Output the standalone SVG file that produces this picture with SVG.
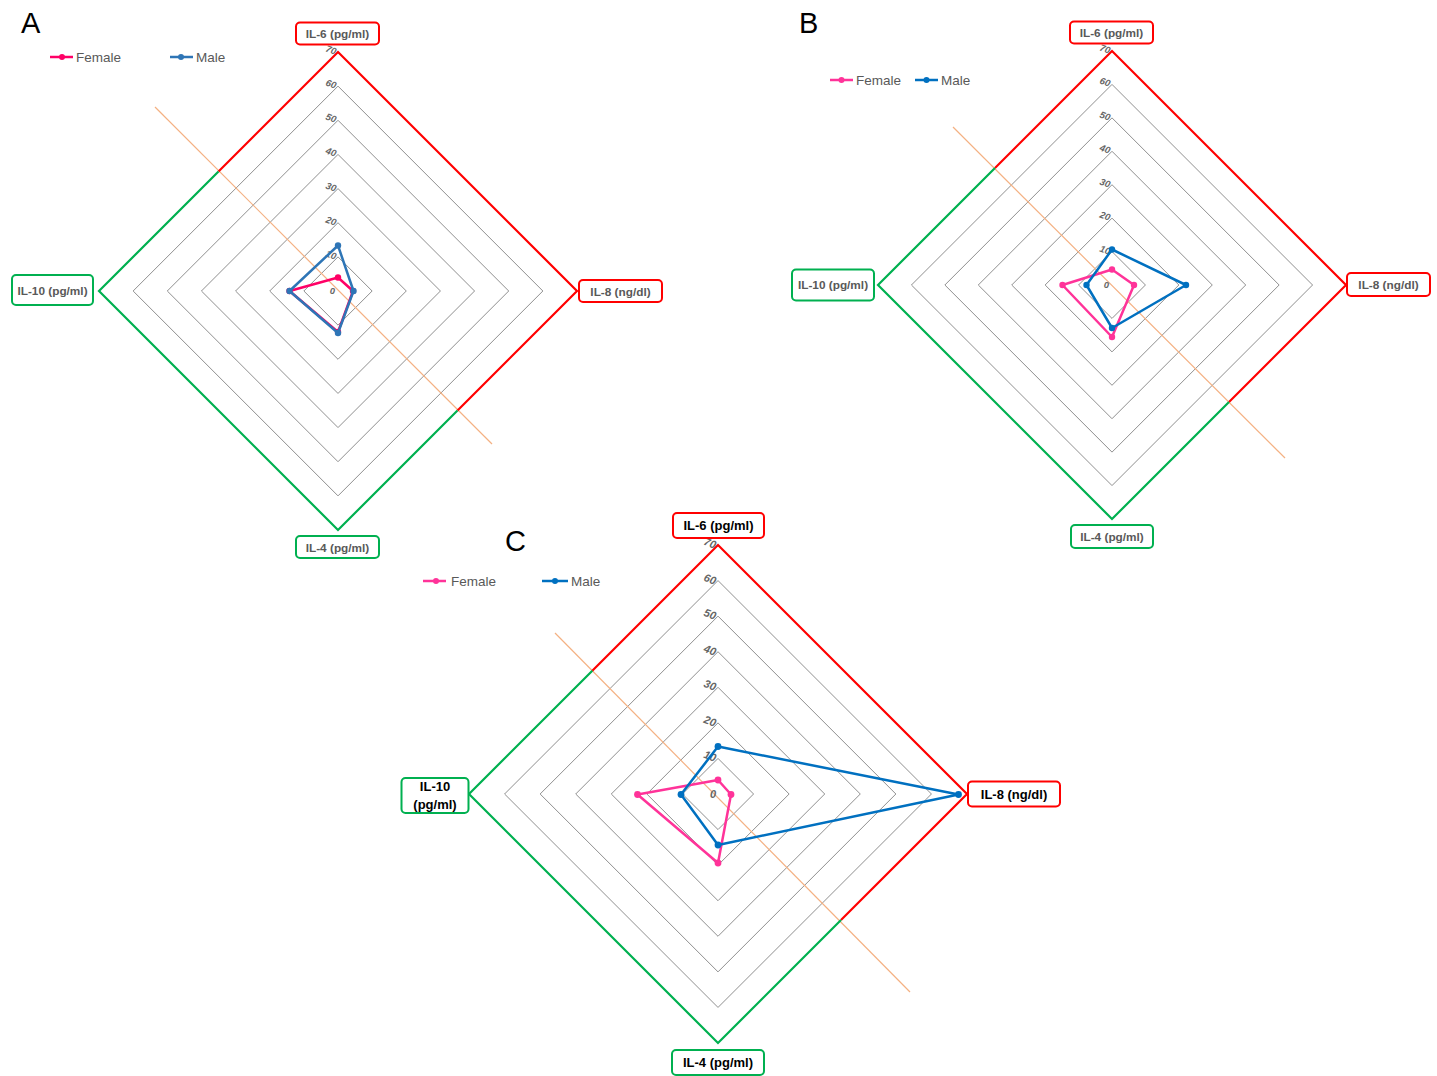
<svg xmlns="http://www.w3.org/2000/svg" width="1437" height="1076" viewBox="0 0 1437 1076">
<style>
.ring{fill:none;stroke:#8f8f8f;stroke-width:1}
.red{fill:none;stroke:#ff0000;stroke-width:2.2}
.grn{fill:none;stroke:#00b050;stroke-width:2.2}
.orl{stroke:#f4b183;stroke-width:1.2}
.tick{font-family:"Liberation Sans",Arial,sans-serif;font-style:italic;font-weight:bold;fill:#666;text-anchor:end}
.ta{font-size:9.5px}
.tb{font-size:9.5px}
.tc{font-size:11px}
.boxr{fill:#fff;stroke:#ff0000;stroke-width:2}
.boxg{fill:#fff;stroke:#00b050;stroke-width:2}
.lab{font-family:"Liberation Sans",Arial,sans-serif;font-weight:bold;fill:#595959;font-size:11.8px;text-anchor:middle}
.labc{font-family:"Liberation Sans",Arial,sans-serif;font-weight:bold;fill:#000;font-size:13px;text-anchor:middle}
.leg{font-family:"Liberation Sans",Arial,sans-serif;fill:#595959;font-size:13.5px}
.letter{font-family:"Liberation Sans",Arial,sans-serif;fill:#000;font-size:29px}
.fA{fill:none;stroke:#ff0066;stroke-width:2.5;stroke-linejoin:round}
.mA{fill:none;stroke:#2e75b6;stroke-width:2.5;stroke-linejoin:round}
.fB{fill:none;stroke:#ff3399;stroke-width:2.5;stroke-linejoin:round}
.mB{fill:none;stroke:#0070c0;stroke-width:2.5;stroke-linejoin:round}
</style>
<rect width="1437" height="1076" fill="#fff"/>

<!-- Chart A -->
<g id="chartA">
  <text class="letter" x="21" y="33">A</text>
  <g id="legendA">
    <line x1="50" y1="57" x2="73" y2="57" stroke="#ff0066" stroke-width="2.5"/><circle cx="62" cy="57" r="3" fill="#ff0066"/>
    <text class="leg" x="76" y="62">Female</text>
    <line x1="170" y1="57" x2="193" y2="57" stroke="#2e75b6" stroke-width="2.5"/><circle cx="181" cy="57" r="3" fill="#2e75b6"/>
    <text class="leg" x="196" y="62">Male</text>
  </g>
  <g id="gridA">
    <polygon class="ring" points="338,256.86 372.14,291 338,325.14 303.86,291"/>
    <polygon class="ring" points="338,222.71 406.29,291 338,359.29 269.71,291"/>
    <polygon class="ring" points="338,188.57 440.43,291 338,393.43 235.57,291"/>
    <polygon class="ring" points="338,154.43 474.57,291 338,427.57 201.43,291"/>
    <polygon class="ring" points="338,120.29 508.71,291 338,461.71 167.29,291"/>
    <polygon class="ring" points="338,86.14 542.86,291 338,495.86 133.14,291"/>
    <line class="orl" x1="155" y1="107" x2="492" y2="444"/>
    <polyline class="red" points="218.5,171.5 338,52 577,291 457.5,410.5"/>
    <polyline class="grn" points="457.5,410.5 338,530 99,291 218.5,171.5"/>
    <text class="tick ta" x="335" y="294">0</text>
    <text class="tick ta" x="336" y="260" transform="rotate(20 336 257)">10</text>
    <text class="tick ta" x="336" y="226" transform="rotate(20 336 223)">20</text>
    <text class="tick ta" x="336" y="192" transform="rotate(20 336 189)">30</text>
    <text class="tick ta" x="336" y="157" transform="rotate(20 336 154)">40</text>
    <text class="tick ta" x="336" y="123" transform="rotate(20 336 120)">50</text>
    <text class="tick ta" x="336" y="89" transform="rotate(20 336 86)">60</text>
    <text class="tick ta" x="336" y="55" transform="rotate(20 336 52)">70</text>
  </g>
  <g id="seriesA">
    <polygon class="fA" points="338,277.5 353,291 338,332 289.5,291"/>
    <g fill="#ff0066"><circle cx="338" cy="277.5" r="3.2"/><circle cx="353" cy="291" r="3.2"/><circle cx="338" cy="332" r="3.2"/><circle cx="289.5" cy="291" r="3.2"/></g>
    <polygon class="mA" points="338,245.5 353.5,291 338,333 289.5,291"/>
    <g fill="#2e75b6"><circle cx="338" cy="245.5" r="3.2"/><circle cx="353.5" cy="291" r="3.2"/><circle cx="338" cy="333" r="3.2"/><circle cx="289.5" cy="291" r="3.2"/></g>
  </g>
  <g id="A-IL6"><rect class="boxr" x="296" y="22.5" width="83" height="22" rx="4"/><text class="lab" x="337.5" y="38">IL-6 (pg/ml)</text></g>
  <g id="A-IL8"><rect class="boxr" x="579" y="280" width="83" height="22" rx="4"/><text class="lab" x="620.5" y="295.5">IL-8 (ng/dl)</text></g>
  <g id="A-IL4"><rect class="boxg" x="296" y="536" width="83" height="22" rx="4"/><text class="lab" x="337.5" y="551.5">IL-4 (pg/ml)</text></g>
  <g id="A-IL10"><rect class="boxg" x="12" y="275" width="81" height="30" rx="4"/><text class="lab" x="52.5" y="294.5">IL-10 (pg/ml)</text></g>
</g>

<!-- Chart B -->
<g id="chartB">
  <text class="letter" x="799" y="33">B</text>
  <g id="legendB">
    <line x1="830" y1="80" x2="853" y2="80" stroke="#ff3399" stroke-width="2.5"/><circle cx="841.5" cy="80" r="3" fill="#ff3399"/>
    <text class="leg" x="856" y="85">Female</text>
    <line x1="915" y1="80" x2="938" y2="80" stroke="#0070c0" stroke-width="2.5"/><circle cx="926.5" cy="80" r="3" fill="#0070c0"/>
    <text class="leg" x="941" y="85">Male</text>
  </g>
  <g id="gridB">
    <polygon class="ring" points="1112,251.57 1145.43,285 1112,318.43 1078.57,285"/>
    <polygon class="ring" points="1112,218.14 1178.86,285 1112,351.86 1045.14,285"/>
    <polygon class="ring" points="1112,184.71 1212.29,285 1112,385.29 1011.71,285"/>
    <polygon class="ring" points="1112,151.29 1245.71,285 1112,418.71 978.29,285"/>
    <polygon class="ring" points="1112,117.86 1279.14,285 1112,452.14 944.86,285"/>
    <polygon class="ring" points="1112,84.43 1312.57,285 1112,485.57 911.43,285"/>
    <line class="orl" x1="953" y1="127" x2="1285" y2="458"/>
    <polyline class="red" points="995,168 1112,51 1346,285 1229,402"/>
    <polyline class="grn" points="1229,402 1112,519 878,285 995,168"/>
    <text class="tick tb" x="1109" y="288">0</text>
    <text class="tick tb" x="1110" y="255" transform="rotate(20 1110 252)">10</text>
    <text class="tick tb" x="1110" y="221" transform="rotate(20 1110 218)">20</text>
    <text class="tick tb" x="1110" y="188" transform="rotate(20 1110 185)">30</text>
    <text class="tick tb" x="1110" y="154" transform="rotate(20 1110 151)">40</text>
    <text class="tick tb" x="1110" y="121" transform="rotate(20 1110 118)">50</text>
    <text class="tick tb" x="1110" y="87" transform="rotate(20 1110 84)">60</text>
    <text class="tick tb" x="1110" y="54" transform="rotate(20 1110 51)">70</text>
  </g>
  <g id="seriesB">
    <polygon class="fB" points="1112,269.5 1134,285 1112,337 1062.5,285"/>
    <g fill="#ff3399"><circle cx="1112" cy="269.5" r="3.2"/><circle cx="1134" cy="285" r="3.2"/><circle cx="1112" cy="337" r="3.2"/><circle cx="1062.5" cy="285" r="3.2"/></g>
    <polygon class="mB" points="1112,249.5 1186,285 1112,328 1086.5,285"/>
    <g fill="#0070c0"><circle cx="1112" cy="249.5" r="3.2"/><circle cx="1186" cy="285" r="3.2"/><circle cx="1112" cy="328" r="3.2"/><circle cx="1086.5" cy="285" r="3.2"/></g>
  </g>
  <g id="B-IL6"><rect class="boxr" x="1070" y="21.5" width="83" height="22" rx="4"/><text class="lab" x="1111.5" y="37">IL-6 (pg/ml)</text></g>
  <g id="B-IL8"><rect class="boxr" x="1347" y="273" width="83" height="23" rx="4"/><text class="lab" x="1388.5" y="289">IL-8 (ng/dl)</text></g>
  <g id="B-IL4"><rect class="boxg" x="1071" y="525" width="82" height="23" rx="4"/><text class="lab" x="1112" y="541">IL-4 (pg/ml)</text></g>
  <g id="B-IL10"><rect class="boxg" x="792" y="269.5" width="82" height="31" rx="4"/><text class="lab" x="833" y="289">IL-10 (pg/ml)</text></g>
</g>

<!-- Chart C -->
<g id="chartC">
  <text class="letter" x="505" y="551">C</text>
  <g id="legendC">
    <line x1="423" y1="581" x2="446" y2="581" stroke="#ff3399" stroke-width="2.5"/><circle cx="436" cy="581" r="3" fill="#ff3399"/>
    <text class="leg" x="451" y="586">Female</text>
    <line x1="542" y1="581" x2="568" y2="581" stroke="#0070c0" stroke-width="2.5"/><circle cx="555" cy="581" r="3" fill="#0070c0"/>
    <text class="leg" x="571" y="586">Male</text>
  </g>
  <g id="gridC">
    <polygon class="ring" points="718,758.43 753.57,794 718,829.57 682.43,794"/>
    <polygon class="ring" points="718,722.86 789.14,794 718,865.14 646.86,794"/>
    <polygon class="ring" points="718,687.29 824.71,794 718,900.71 611.29,794"/>
    <polygon class="ring" points="718,651.71 860.29,794 718,936.29 575.71,794"/>
    <polygon class="ring" points="718,616.14 895.86,794 718,971.86 540.14,794"/>
    <polygon class="ring" points="718,580.57 931.43,794 718,1007.43 504.57,794"/>
    <line class="orl" x1="555" y1="633" x2="910" y2="992"/>
    <polyline class="red" points="592.3,670.7 718,545 967,794 841,920"/>
    <polyline class="grn" points="841,920 718,1043 469,794 592.3,670.7"/>
    <text class="tick tc" x="716" y="798">0</text>
    <text class="tick tc" x="716" y="762" transform="rotate(20 716 758)">10</text>
    <text class="tick tc" x="716" y="727" transform="rotate(20 716 723)">20</text>
    <text class="tick tc" x="716" y="691" transform="rotate(20 716 687)">30</text>
    <text class="tick tc" x="716" y="656" transform="rotate(20 716 652)">40</text>
    <text class="tick tc" x="716" y="620" transform="rotate(20 716 616)">50</text>
    <text class="tick tc" x="716" y="585" transform="rotate(20 716 581)">60</text>
    <text class="tick tc" x="716" y="549" transform="rotate(20 716 545)">70</text>
  </g>
  <g id="seriesC">
    <polygon class="fB" points="718,780 731,794.5 718,863 637.5,794.5"/>
    <g fill="#ff3399"><circle cx="718" cy="780" r="3.4"/><circle cx="731" cy="794.5" r="3.4"/><circle cx="718" cy="863" r="3.4"/><circle cx="637.5" cy="794.5" r="3.4"/></g>
    <polygon class="mB" points="718,746.5 958.5,794.5 718,845 681,794.5"/>
    <g fill="#0070c0"><circle cx="718" cy="746.5" r="3.4"/><circle cx="958.5" cy="794.5" r="3.4"/><circle cx="718" cy="845" r="3.4"/><circle cx="681" cy="794.5" r="3.4"/></g>
  </g>
  <g id="C-IL6"><rect class="boxr" x="673" y="513" width="91" height="25" rx="4"/><text class="labc" x="718.5" y="530">IL-6 (pg/ml)</text></g>
  <g id="C-IL8"><rect class="boxr" x="968" y="781.5" width="92" height="25" rx="4"/><text class="labc" x="1014" y="798.5">IL-8 (ng/dl)</text></g>
  <g id="C-IL4"><rect class="boxg" x="672" y="1050" width="92" height="25" rx="4"/><text class="labc" x="718" y="1067">IL-4 (pg/ml)</text></g>
  <g id="C-IL10"><rect class="boxg" x="401.5" y="778" width="67" height="35" rx="4"/><text class="labc" x="435" y="790.5">IL-10</text><text class="labc" x="435" y="808.5">(pg/ml)</text></g>
</g>
</svg>
